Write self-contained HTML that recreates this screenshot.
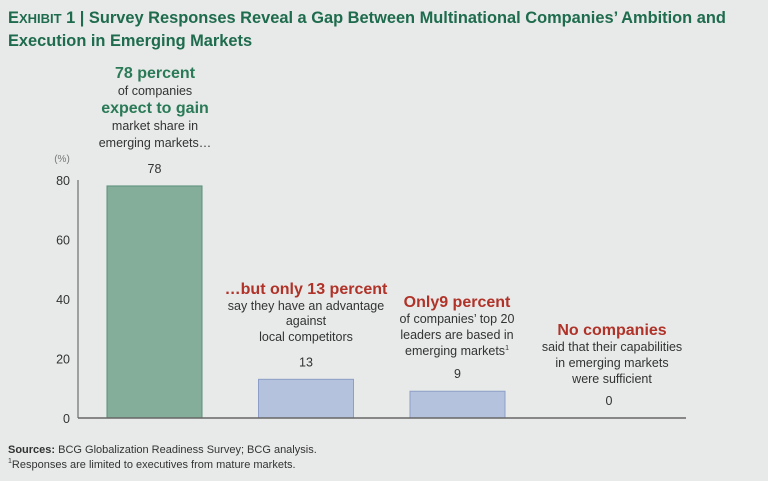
<!DOCTYPE html>
<html><head><meta charset="utf-8"><style>
body{margin:0;width:768px;height:481px;background:#e7eae9;font-family:"Liberation Sans Narrow","Liberation Sans",sans-serif;overflow:hidden;position:relative}
.t{position:absolute;white-space:nowrap}
.title{left:8px;top:7px;color:#1e6b4d;font-weight:bold;font-size:16.4px;line-height:22px;font-family:"Liberation Sans Narrow","Liberation Sans",sans-serif}
.c{transform:translateX(-50%);text-align:center;font-size:12.5px;color:#333;line-height:15.5px}
.g{color:#2a7a57;font-weight:bold;font-size:16px}
.r{color:#b03228;font-weight:bold;font-size:16px}
.src{left:8px;font-size:11px;color:#333}
sup{font-size:7px;line-height:0;vertical-align:5px}
</style></head><body>
<div class="t title">E<span style="font-size:13px">XHIBIT</span> 1 | Survey Responses Reveal a Gap Between Multinational Companies’ Ambition and<br>Execution in Emerging Markets</div>
<div class="t c" style="left:155px;top:65px;line-height:17px"><span class="g">78 percent</span><br>of companies<br><span class="g">expect to gain</span><br>market share in<br>emerging markets…</div>
<div class="t c" style="left:306px;top:282px"><span class="r">…but only 13 percent</span><br>say they have an advantage<br>against<br>local competitors</div>
<div class="t c" style="left:457px;top:295px;line-height:16px"><span class="r">Only9 percent</span><br>of companies’ top 20<br>leaders are based in<br>emerging markets<sup>1</sup></div>
<div class="t c" style="left:612px;top:323px;line-height:16px"><span class="r">No companies</span><br>said that their capabilities<br>in emerging markets<br>were sufficient</div>
<svg id="chart" width="768" height="481" style="position:absolute;left:0;top:0"></svg>
<div class="t src" style="top:444px"><b>Sources:</b> BCG Globalization Readiness Survey; BCG analysis.</div>
<div class="t src" style="top:459px"><sup>1</sup>Responses are limited to executives from mature markets.</div>
<script>
const categories=["Expect to gain share","Advantage vs locals","Top 20 leaders in EM","Capabilities sufficient"];
const values=[78,13,9,0];
const ticks=[0,20,40,60,80];
const NS="http://www.w3.org/2000/svg";
const svg=document.getElementById("chart");
const y=v=>418-v*2.975;
const x=i=>107+i*151.5;
const bw=95;
function mk(t,a){const e=document.createElementNS(NS,t);for(const k in a)e.setAttribute(k,a[k]);svg.appendChild(e);return e;}
const ax=mk("line",{x1:78,x2:78,y1:y(80),y2:418,stroke:"#555","stroke-width":1});


const pct=mk("text",{x:62,y:162,"font-size":10,fill:"#777","text-anchor":"middle","font-family":"Liberation Sans Narrow, Liberation Sans, sans-serif"});
pct.textContent="(%)";


ticks.forEach(t=>{const e=mk("text",{x:70,y:y(t)+5,"font-size":12.5,fill:"#333","text-anchor":"end","font-family":"Liberation Sans Narrow, Liberation Sans, sans-serif"});e.textContent=t;

});
values.forEach((v,i)=>{
 if(v>0){const b=mk("rect",{x:x(i),y:y(v),width:bw,height:418-y(v),fill:i==0?"#84ad9a":"#b5c2dd",stroke:i==0?"#5e8f7a":"#8d9fc6","stroke-width":1});
 
 }
 const l=mk("text",{x:x(i)+bw/2,y:y(v)-13,"font-size":12.5,fill:"#333","text-anchor":"middle","font-family":"Liberation Sans Narrow, Liberation Sans, sans-serif"});l.textContent=v;
 
 
});
const xa=mk("line",{x1:78,x2:686,y1:418,y2:418,stroke:"#666","stroke-width":1.5});


</script>
</body></html>
